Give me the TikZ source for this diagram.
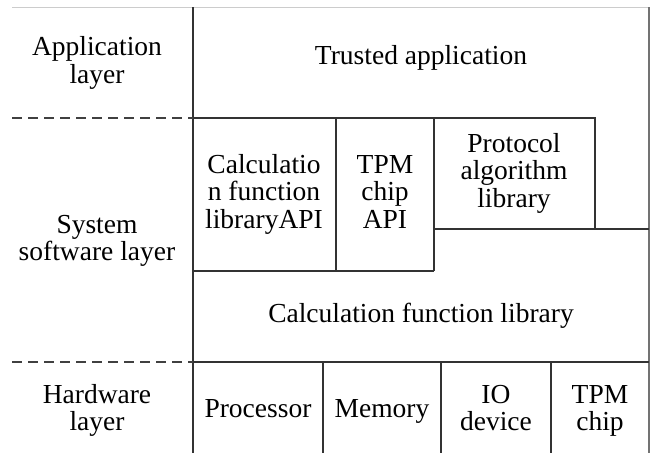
\documentclass[tikz,border=0pt]{standalone}
\usepackage{fontspec}
\setmainfont{Liberation Serif}
\begin{document}
\begin{tikzpicture}[x=1pt,y=-1pt,
  ln/.style={draw=black!80,line width=1.1pt},
  dl/.style={draw=black!75,line width=1.1pt,dash pattern=on 10pt off 6pt},
  lbl/.style={align=center,font=\fontsize{27.5}{27.5}\selectfont,inner sep=0pt,anchor=base}]
\useasboundingbox (0,0) rectangle (651,453);
% frame
\draw[draw=black!20,line width=1pt] (12,7) -- (649,7);
\draw[draw=black!55,line width=1.6pt] (649,7) -- (649,453);
\draw[ln] (193,7) -- (193,453);
% layer separators
\draw[dl] (12,118) -- (193,118);
\draw[dl] (12,362) -- (193,362);
% system layer boxes
\draw[ln] (193,118) -- (595,118) -- (595,229);
\draw[ln] (434,229) -- (649,229);
\draw[ln] (336,118) -- (336,271);
\draw[ln] (434,118) -- (434,271);
\draw[ln] (193,271) -- (434,271);
% hardware
\draw[ln] (193,362) -- (649,362);
\draw[ln] (323,362) -- (323,453);
\draw[ln] (441,362) -- (441,453);
\draw[ln] (551,362) -- (551,453);
% labels (anchored at last-line baseline)
\node[lbl] (appl) at (97,83) {Application\\layer};
\node[lbl] (sysl) at (97,260.5) {System\\software layer};
\node[lbl] (hwl) at (97,430.5) {Hardware\\layer};
\node[lbl] (ta) at (421,64.5) {Trusted application};
\node[lbl] (capi) at (264,228) {Calculatio\\n function\\libraryAPI};
\node[lbl] (tapi) at (385,228) {TPM\\chip\\API};
\node[lbl] (pal) at (514,207) {Protocol\\algorithm\\library};
\node[lbl] (cfl) at (421,322) {Calculation function library};
\node[lbl] (proc) at (258,417) {Processor};
\node[lbl] (mem) at (382,417) {Memory};
\node[lbl] (io) at (496,430.5) {IO\\device};
\node[lbl] (tpm) at (600,430.5) {TPM\\chip};
\end{tikzpicture}
\end{document}
